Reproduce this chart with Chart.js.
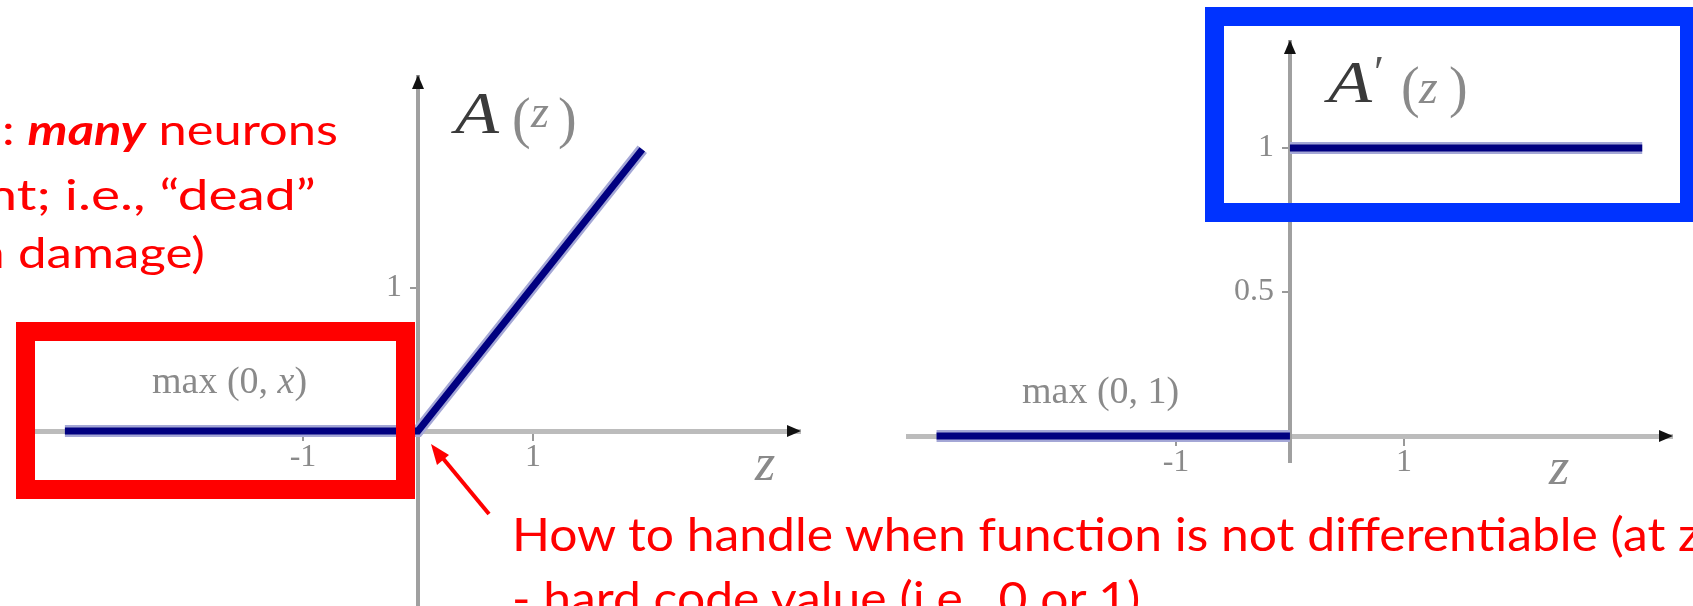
<!DOCTYPE html>
<html>
<head>
<meta charset="utf-8">
<script src="https://cdn.jsdelivr.net/npm/chart.js@4.4.1/dist/chart.umd.min.js"></script>
<style>
  html, body { margin: 0; padding: 0; background: #fff; }
  body { width: 1693px; height: 606px; position: relative; overflow: hidden; }
  .plot { position: absolute; }
  .txt { position: absolute; white-space: nowrap; line-height: 1; font-family: Lato, "Open Sans", sans-serif; color: #ff0000; }
  .r { transform-origin: right center; }
  .l { transform-origin: left center; }
  .m { position: absolute; white-space: nowrap; line-height: 1; font-family: "Liberation Serif", "DejaVu Serif", serif; color: #8a8a8a; }
  .box { position: absolute; box-sizing: border-box; }
</style>
</head>
<body>

<div class="plot" style="left:35px; top:75px; width:766px; height:531px;"><canvas id="leftChart"></canvas></div>
<div class="plot" style="left:906px; top:40px; width:767px; height:462px;"><canvas id="rightChart"></canvas></div>

<!-- A(z) -->
<i class="m l" style="left:455px; top:83px; font-size:60px; color:#3a3a3a; transform:scaleX(1.2);">A</i>
<span class="m" style="left:512px; top:90px; font-size:56px;">(</span>
<i class="m" style="left:531px; top:89px; font-size:46px;">z</i>
<span class="m" style="left:558px; top:90px; font-size:56px;">)</span>
<!-- A'(z) -->
<i class="m l" style="left:1328px; top:52px; font-size:60px; color:#3a3a3a; transform:scaleX(1.2);">A</i>
<span class="m" style="left:1374px; top:50px; font-size:46px; color:#555;">′</span>
<span class="m" style="left:1401px; top:59px; font-size:56px;">(</span>
<i class="m" style="left:1419px; top:63px; font-size:48px;">z</i>
<span class="m" style="left:1449px; top:59px; font-size:56px;">)</span>

<div class="m" style="left:152px; top:361px; font-size:38px;">max (0, <i>x</i>)</div>
<div class="m" style="left:1022px; top:371px; font-size:38px;">max (0, 1)</div>
<i class="m" style="left:755px; top:437px; font-size:52px;">z</i>
<i class="m" style="left:1549px; top:441px; font-size:52px;">z</i>

<!-- slide annotations -->
<div class="txt r" id="t1" style="right:1355px; top:108px; font-size:42px;">: <b><i>many</i></b> neurons</div>
<div class="txt r" id="t2" style="right:1377px; top:173px; font-size:42px;">n<span id="t2s">t; i.e., “dead”</span></div>
<div class="txt r" id="t3" style="right:1488px; top:231px; font-size:42px;">n <span id="t3s">damage)</span></div>
<div class="txt l" id="b1" style="left:512px; top:511px; font-size:46px;"><span id="b1s">How to handle when function is not differentiable (at </span>z = 0)?</div>
<div class="txt l" id="b2" style="left:512px; top:575px; font-size:46px;">- hard code value (i.e., 0 or 1)</div>

<div class="box" style="left:16px; top:322px; width:399px; height:177px; border:19px solid #ff0000;"></div>
<div class="box" style="left:1205px; top:7px; width:494px; height:215px; border:19px solid #0033ff;"></div>

<svg style="position:absolute; left:0; top:0;" width="1693" height="606">
  <line x1="489" y1="514" x2="441" y2="456" stroke="#ff0000" stroke-width="4"/>
  <polygon points="431,444 449,455 437,465" fill="#ff0000"/>
</svg>

<script>
// ReLU  A(z) = max(0, z)
const reluZ = [-3.07, 0, 1.95];
const reluA = [0, 0, 1.97];
// derivative A'(z), two pieces
const gradNegZ = [-3.1, 0];
const gradNegA = [0, 0];
const gradPosZ = [0, 3.09];
const gradPosA = [1, 1];
// tick labels
const leftXTicks = [-1, 1];
const leftYTicks = [1];
const rightXTicks = [-1, 1];
const rightYTicks = [0.5, 1];

const NAVY = '#000080';
const HALO = '#a4a7d6';

// stretch the slide text the way the original slide was stretched
function fit(id, sampleId, target) {
  const w = document.getElementById(sampleId).getBoundingClientRect().width;
  const k = target / w;
  document.getElementById(id).style.transform = 'scaleX(' + k + ')';
  return k;
}
fit('t1', 't1', 336);
fit('t2', 't2s', 299);
fit('t3', 't3s', 187);
const kb = fit('b1', 'b1s', 1166);
document.getElementById('b2').style.transform = 'scaleX(' + kb + ')';

function pts(xs, ys) {
  return xs.map((x, i) => ({x: x, y: ys[i]}));
}

function lineSet(data, color, width) {
  return {
    data: data, borderColor: color, borderWidth: width, pointRadius: 0,
    showLine: true, tension: 0, borderCapStyle: 'butt', fill: false
  };
}

const tickFont = {family: 'Liberation Serif', size: 32};

function noPad(s) {
  s.paddingTop = 0; s.paddingBottom = 0; s.paddingLeft = 0; s.paddingRight = 0;
}

function xAxis(min, max, ticks) {
  return {
    type: 'linear', min: min, max: max, position: {y: 0},
    afterBuildTicks: s => { s.ticks = ticks.map(v => ({value: v})); },
    afterFit: noPad,
    grid: {drawOnChartArea: false, drawTicks: true, tickLength: 7, color: '#999', lineWidth: 2},
    border: {display: true, color: '#bcbcbc', width: 5},
    ticks: {color: '#8a8a8a', font: tickFont, padding: 0, maxRotation: 0, autoSkip: false}
  };
}

function yAxis(min, max, ticks) {
  return {
    type: 'linear', min: min, max: max, position: {x: 0},
    afterBuildTicks: s => { s.ticks = ticks.map(v => ({value: v})); },
    afterFit: noPad,
    grid: {drawOnChartArea: false, drawTicks: true, tickLength: 6, color: '#999', lineWidth: 2},
    border: {display: true, color: '#a0a0a0', width: 4},
    ticks: {color: '#8a8a8a', font: tickFont, padding: 8, autoSkip: false,
            callback: v => v + '\u2002'}
  };
}

// small black arrowheads at the ends of both axes
const arrowHeads = {
  id: 'arrowHeads',
  afterDraw(chart) {
    const {ctx, chartArea: a, scales: {x, y}} = chart;
    const y0 = y.getPixelForValue(0);
    const x0 = x.getPixelForValue(0);
    ctx.save();
    ctx.fillStyle = '#111';
    ctx.beginPath();
    ctx.moveTo(a.right, y0);
    ctx.lineTo(a.right - 14, y0 - 6);
    ctx.lineTo(a.right - 14, y0 + 6);
    ctx.closePath();
    ctx.fill();
    ctx.beginPath();
    ctx.moveTo(x0, a.top);
    ctx.lineTo(x0 - 6, a.top + 14);
    ctx.lineTo(x0 + 6, a.top + 14);
    ctx.closePath();
    ctx.fill();
    ctx.restore();
  }
};

function opts(xScale, yScale, padBottom) {
  return {
    responsive: true,
    maintainAspectRatio: false,
    animation: false,
    layout: {padding: {top: 0, left: 0, right: 0, bottom: padBottom}},
    plugins: {legend: {display: false}, tooltip: {enabled: false}},
    scales: {x: xScale, y: yScale}
  };
}

new Chart(document.getElementById('leftChart'), {
  type: 'scatter',
  data: {
    datasets: [
      lineSet(pts(reluZ, reluA), NAVY, 7),
      lineSet(pts(reluZ, reluA), HALO, 12)
    ]
  },
  options: opts(xAxis(-3.33, 3.33, leftXTicks), yAxis(-1.224, 2.49, leftYTicks), 0),
  plugins: [arrowHeads]
});

new Chart(document.getElementById('rightChart'), {
  type: 'scatter',
  data: {
    datasets: [
      lineSet(pts(gradNegZ, gradNegA), NAVY, 7),
      lineSet(pts(gradPosZ, gradPosA), NAVY, 7),
      lineSet(pts(gradNegZ, gradNegA), HALO, 12),
      lineSet(pts(gradPosZ, gradPosA), HALO, 12)
    ]
  },
  options: opts(xAxis(-3.368, 3.36, rightXTicks), yAxis(-0.09, 1.375, rightYTicks), 40),
  plugins: [arrowHeads]
});
</script>
</body>
</html>
